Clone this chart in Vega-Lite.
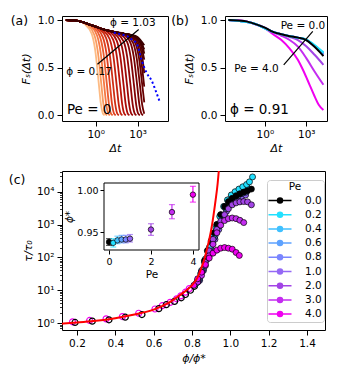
{
"$schema":"https://vega.github.io/schema/vega-lite/v6.json",
"background":"white",
"padding":{"left":8,"top":14,"right":2,"bottom":2},
"config":{
 "font":"DejaVu Sans",
 "view":{"stroke":"black","strokeWidth":1},
 "axis":{"grid":false,"domain":false,"tickColor":"black","tickSize":5,"tickWidth":1,"labelColor":"black","labelFontSize":10.5,"labelPadding":3,"titleColor":"black","titleFontSize":11,"titleFontWeight":"normal","labelFlush":false,"labelOverlap":false},
 "axisY":{"labelOverlap":false},
 "axisLeft":{"labelOverlap":false},
 "text":{"color":"black"},
 "point":{"opacity":1},
 "tick":{"thickness":1.2}
},
"datasets":{
"A":[
{"p":0.17,"t":-2.13,"F":1},{"p":0.17,"t":-1.5,"F":0.995},{"p":0.17,"t":-1,"F":0.98},{"p":0.17,"t":-0.78,"F":0.956},{"p":0.17,"t":-0.28,"F":0.854},{"p":0.17,"t":-0.03,"F":0.68},{"p":0.17,"t":0.22,"F":0.338},{"p":0.17,"t":0.37,"F":0.124},{"p":0.17,"t":0.52,"F":0.018},{"p":0.17,"t":0.64,"F":0},
{"p":0.26,"t":-2.13,"F":1},{"p":0.26,"t":-1.5,"F":0.995},{"p":0.26,"t":-1,"F":0.98},{"p":0.26,"t":-0.6,"F":0.95},{"p":0.26,"t":-0.1,"F":0.846},{"p":0.26,"t":0.15,"F":0.673},{"p":0.26,"t":0.4,"F":0.335},{"p":0.26,"t":0.55,"F":0.123},{"p":0.26,"t":0.7,"F":0.018},{"p":0.26,"t":0.82,"F":0},
{"p":0.35,"t":-2.13,"F":1},{"p":0.35,"t":-1.5,"F":0.995},{"p":0.35,"t":-1,"F":0.98},{"p":0.35,"t":-0.4,"F":0.941},{"p":0.35,"t":0.1,"F":0.837},{"p":0.35,"t":0.35,"F":0.666},{"p":0.35,"t":0.6,"F":0.332},{"p":0.35,"t":0.75,"F":0.122},{"p":0.35,"t":0.9,"F":0.018},{"p":0.35,"t":1.02,"F":0},
{"p":0.44,"t":-2.13,"F":1},{"p":0.44,"t":-1.5,"F":0.995},{"p":0.44,"t":-1,"F":0.98},{"p":0.44,"t":-0.5,"F":0.955},{"p":0.44,"t":-0.2,"F":0.931},{"p":0.44,"t":0.3,"F":0.828},{"p":0.44,"t":0.55,"F":0.659},{"p":0.44,"t":0.8,"F":0.33},{"p":0.44,"t":0.95,"F":0.121},{"p":0.44,"t":1.1,"F":0.018},{"p":0.44,"t":1.22,"F":0},
{"p":0.52,"t":-2.13,"F":1},{"p":0.52,"t":-1.5,"F":0.995},{"p":0.52,"t":-1,"F":0.98},{"p":0.52,"t":-0.5,"F":0.955},{"p":0.52,"t":0.02,"F":0.92},{"p":0.52,"t":0.52,"F":0.818},{"p":0.52,"t":0.77,"F":0.653},{"p":0.52,"t":1.02,"F":0.325},{"p":0.52,"t":1.17,"F":0.12},{"p":0.52,"t":1.32,"F":0.018},{"p":0.52,"t":1.44,"F":0},
{"p":0.59,"t":-2.13,"F":1},{"p":0.59,"t":-1.5,"F":0.995},{"p":0.59,"t":-1,"F":0.98},{"p":0.59,"t":-0.5,"F":0.955},{"p":0.59,"t":0,"F":0.93},{"p":0.59,"t":0.25,"F":0.908},{"p":0.59,"t":0.75,"F":0.81},{"p":0.59,"t":1,"F":0.646},{"p":0.59,"t":1.25,"F":0.323},{"p":0.59,"t":1.4,"F":0.119},{"p":0.59,"t":1.55,"F":0.017},{"p":0.59,"t":1.67,"F":0},
{"p":0.64,"t":-2.13,"F":1},{"p":0.64,"t":-1.5,"F":0.995},{"p":0.64,"t":-1,"F":0.98},{"p":0.64,"t":-0.5,"F":0.955},{"p":0.64,"t":0,"F":0.93},{"p":0.64,"t":0.5,"F":0.896},{"p":0.64,"t":1,"F":0.801},{"p":0.64,"t":1.25,"F":0.641},{"p":0.64,"t":1.5,"F":0.32},{"p":0.64,"t":1.65,"F":0.118},{"p":0.64,"t":1.8,"F":0.017},{"p":0.64,"t":1.92,"F":0},
{"p":0.68,"t":-2.13,"F":1},{"p":0.68,"t":-1.5,"F":0.995},{"p":0.68,"t":-1,"F":0.98},{"p":0.68,"t":-0.5,"F":0.955},{"p":0.68,"t":0,"F":0.93},{"p":0.68,"t":0.5,"F":0.905},{"p":0.68,"t":0.75,"F":0.886},{"p":0.68,"t":1.25,"F":0.794},{"p":0.68,"t":1.5,"F":0.635},{"p":0.68,"t":1.75,"F":0.318},{"p":0.68,"t":1.9,"F":0.117},{"p":0.68,"t":2.05,"F":0.017},{"p":0.68,"t":2.17,"F":0},
{"p":0.72,"t":-2.13,"F":1},{"p":0.72,"t":-1.5,"F":0.995},{"p":0.72,"t":-1,"F":0.98},{"p":0.72,"t":-0.5,"F":0.955},{"p":0.72,"t":0,"F":0.93},{"p":0.72,"t":0.5,"F":0.905},{"p":0.72,"t":1,"F":0.876},{"p":0.72,"t":1.5,"F":0.787},{"p":0.72,"t":1.75,"F":0.631},{"p":0.72,"t":2,"F":0.316},{"p":0.72,"t":2.15,"F":0.116},{"p":0.72,"t":2.3,"F":0.017},{"p":0.72,"t":2.42,"F":0},
{"p":0.75,"t":-2.13,"F":1},{"p":0.75,"t":-1.5,"F":0.995},{"p":0.75,"t":-1,"F":0.98},{"p":0.75,"t":-0.5,"F":0.955},{"p":0.75,"t":0,"F":0.93},{"p":0.75,"t":0.5,"F":0.905},{"p":0.75,"t":1,"F":0.885},{"p":0.75,"t":1.25,"F":0.869},{"p":0.75,"t":1.75,"F":0.782},{"p":0.75,"t":2,"F":0.626},{"p":0.75,"t":2.25,"F":0.313},{"p":0.75,"t":2.4,"F":0.115},{"p":0.75,"t":2.55,"F":0.017},{"p":0.75,"t":2.67,"F":0},
{"p":0.78,"t":-2.13,"F":1},{"p":0.78,"t":-1.5,"F":0.995},{"p":0.78,"t":-1,"F":0.98},{"p":0.78,"t":-0.5,"F":0.955},{"p":0.78,"t":0,"F":0.93},{"p":0.78,"t":0.5,"F":0.905},{"p":0.78,"t":1,"F":0.885},{"p":0.78,"t":1.5,"F":0.861},{"p":0.78,"t":2,"F":0.776},{"p":0.78,"t":2.25,"F":0.622},{"p":0.78,"t":2.5,"F":0.311},{"p":0.78,"t":2.65,"F":0.114},{"p":0.78,"t":2.8,"F":0.017},{"p":0.78,"t":2.92,"F":0},
{"p":0.81,"t":-2.13,"F":1},{"p":0.81,"t":-1.5,"F":0.995},{"p":0.81,"t":-1,"F":0.98},{"p":0.81,"t":-0.5,"F":0.955},{"p":0.81,"t":0,"F":0.93},{"p":0.81,"t":0.5,"F":0.905},{"p":0.81,"t":1,"F":0.885},{"p":0.81,"t":1.5,"F":0.87},{"p":0.81,"t":1.75,"F":0.855},{"p":0.81,"t":2.25,"F":0.771},{"p":0.81,"t":2.5,"F":0.617},{"p":0.81,"t":2.75,"F":0.308},{"p":0.81,"t":2.9,"F":0.113},{"p":0.81,"t":3.05,"F":0.017},{"p":0.81,"t":3.17,"F":0},
{"p":0.84,"t":-2.13,"F":1},{"p":0.84,"t":-1.5,"F":0.995},{"p":0.84,"t":-1,"F":0.98},{"p":0.84,"t":-0.5,"F":0.955},{"p":0.84,"t":0,"F":0.93},{"p":0.84,"t":0.5,"F":0.905},{"p":0.84,"t":1,"F":0.885},{"p":0.84,"t":1.5,"F":0.87},{"p":0.84,"t":1.98,"F":0.85},{"p":0.84,"t":2.48,"F":0.765},{"p":0.84,"t":2.73,"F":0.612},{"p":0.84,"t":2.98,"F":0.306},{"p":0.84,"t":3.13,"F":0.112},{"p":0.84,"t":3.28,"F":0.017},{"p":0.84,"t":3.4,"F":0},
{"p":0.86,"t":-2.13,"F":1},{"p":0.86,"t":-1.5,"F":0.995},{"p":0.86,"t":-1,"F":0.98},{"p":0.86,"t":-0.5,"F":0.955},{"p":0.86,"t":0,"F":0.93},{"p":0.86,"t":0.5,"F":0.905},{"p":0.86,"t":1,"F":0.885},{"p":0.86,"t":1.5,"F":0.87},{"p":0.86,"t":2,"F":0.858},{"p":0.86,"t":2.18,"F":0.845},{"p":0.86,"t":2.68,"F":0.76},{"p":0.86,"t":2.93,"F":0.607},{"p":0.86,"t":3.18,"F":0.304},{"p":0.86,"t":3.33,"F":0.112},{"p":0.86,"t":3.48,"F":0.016},
{"p":0.88,"t":-2.13,"F":1},{"p":0.88,"t":-1.5,"F":0.995},{"p":0.88,"t":-1,"F":0.98},{"p":0.88,"t":-0.5,"F":0.955},{"p":0.88,"t":0,"F":0.93},{"p":0.88,"t":0.5,"F":0.905},{"p":0.88,"t":1,"F":0.885},{"p":0.88,"t":1.5,"F":0.87},{"p":0.88,"t":2,"F":0.858},{"p":0.88,"t":2.35,"F":0.84},{"p":0.88,"t":2.85,"F":0.755},{"p":0.88,"t":3.1,"F":0.604},{"p":0.88,"t":3.35,"F":0.302},{"p":0.88,"t":3.48,"F":0.136},
{"p":0.9,"t":-2.13,"F":1},{"p":0.9,"t":-1.5,"F":0.995},{"p":0.9,"t":-1,"F":0.98},{"p":0.9,"t":-0.5,"F":0.955},{"p":0.9,"t":0,"F":0.93},{"p":0.9,"t":0.5,"F":0.905},{"p":0.9,"t":1,"F":0.885},{"p":0.9,"t":1.5,"F":0.87},{"p":0.9,"t":2,"F":0.858},{"p":0.9,"t":2.48,"F":0.837},{"p":0.9,"t":2.98,"F":0.752},{"p":0.9,"t":3.23,"F":0.601},{"p":0.9,"t":3.48,"F":0.3},
{"p":0.92,"t":-2.13,"F":1},{"p":0.92,"t":-1.5,"F":0.995},{"p":0.92,"t":-1,"F":0.98},{"p":0.92,"t":-0.5,"F":0.955},{"p":0.92,"t":0,"F":0.93},{"p":0.92,"t":0.5,"F":0.905},{"p":0.92,"t":1,"F":0.885},{"p":0.92,"t":1.5,"F":0.87},{"p":0.92,"t":2,"F":0.858},{"p":0.92,"t":2.6,"F":0.834},{"p":0.92,"t":3.1,"F":0.748},{"p":0.92,"t":3.35,"F":0.599},{"p":0.92,"t":3.48,"F":0.442},
{"p":0.95,"t":-2.13,"F":1},{"p":0.95,"t":-1.5,"F":0.995},{"p":0.95,"t":-1,"F":0.98},{"p":0.95,"t":-0.5,"F":0.955},{"p":0.95,"t":0,"F":0.93},{"p":0.95,"t":0.5,"F":0.905},{"p":0.95,"t":1,"F":0.885},{"p":0.95,"t":1.5,"F":0.87},{"p":0.95,"t":2,"F":0.858},{"p":0.95,"t":2.72,"F":0.83},{"p":0.95,"t":3.22,"F":0.745},{"p":0.95,"t":3.48,"F":0.584},
{"p":0.98,"t":-2.13,"F":1},{"p":0.98,"t":-1.5,"F":0.995},{"p":0.98,"t":-1,"F":0.98},{"p":0.98,"t":-0.5,"F":0.955},{"p":0.98,"t":0,"F":0.93},{"p":0.98,"t":0.5,"F":0.905},{"p":0.98,"t":1,"F":0.885},{"p":0.98,"t":1.5,"F":0.87},{"p":0.98,"t":2,"F":0.858},{"p":0.98,"t":2.5,"F":0.845},{"p":0.98,"t":2.82,"F":0.827},{"p":0.98,"t":3.32,"F":0.743},{"p":0.98,"t":3.48,"F":0.647},
{"p":1.0,"t":-2.13,"F":1},{"p":1.0,"t":-1.5,"F":0.995},{"p":1.0,"t":-1,"F":0.98},{"p":1.0,"t":-0.5,"F":0.955},{"p":1.0,"t":0,"F":0.93},{"p":1.0,"t":0.5,"F":0.905},{"p":1.0,"t":1,"F":0.885},{"p":1.0,"t":1.5,"F":0.87},{"p":1.0,"t":2,"F":0.858},{"p":1.0,"t":2.5,"F":0.845},{"p":1.0,"t":2.9,"F":0.825},{"p":1.0,"t":3.2,"F":0.774},{"p":1.0,"t":3.48,"F":0.693},
{"p":1.03,"t":-2.13,"F":1},{"p":1.03,"t":-1.5,"F":0.995},{"p":1.03,"t":-1,"F":0.98},{"p":1.03,"t":-0.5,"F":0.955},{"p":1.03,"t":0,"F":0.93},{"p":1.03,"t":0.5,"F":0.905},{"p":1.03,"t":1,"F":0.885},{"p":1.03,"t":1.5,"F":0.87},{"p":1.03,"t":2,"F":0.858},{"p":1.03,"t":2.5,"F":0.845},{"p":1.03,"t":3,"F":0.822},{"p":1.03,"t":3.25,"F":0.782},{"p":1.03,"t":3.48,"F":0.735}
],
"Ablue":[{"t":1.3,"F":0.867},{"t":1.8,"F":0.85},{"t":2.25,"F":0.83},{"t":2.6,"F":0.795},{"t":2.96,"F":0.745},{"t":3.3,"F":0.575},{"t":3.67,"F":0.44},{"t":4.0,"F":0.367},{"t":4.38,"F":0.225},{"t":4.61,"F":0.133}],
"B":[
{"Pe":"4.0","t":-2.64,"F":1},{"Pe":"4.0","t":-1.5,"F":0.99},{"Pe":"4.0","t":-0.84,"F":0.963},{"Pe":"4.0","t":0,"F":0.915},{"Pe":"4.0","t":0.6,"F":0.85},{"Pe":"4.0","t":1.2,"F":0.79},{"Pe":"4.0","t":1.8,"F":0.7},{"Pe":"4.0","t":2.4,"F":0.58},{"Pe":"4.0","t":2.75,"F":0.48},{"Pe":"4.0","t":3,"F":0.4},{"Pe":"4.0","t":3.24,"F":0.32},{"Pe":"4.0","t":3.6,"F":0.2},{"Pe":"4.0","t":3.9,"F":0.11},{"Pe":"4.0","t":4.24,"F":0.055},
{"Pe":"3.0","t":-2.64,"F":1},{"Pe":"3.0","t":-1.5,"F":0.99},{"Pe":"3.0","t":-0.84,"F":0.964},{"Pe":"3.0","t":0,"F":0.918},{"Pe":"3.0","t":0.6,"F":0.87},{"Pe":"3.0","t":1.2,"F":0.835},{"Pe":"3.0","t":1.8,"F":0.79},{"Pe":"3.0","t":2.4,"F":0.72},{"Pe":"3.0","t":3,"F":0.6},{"Pe":"3.0","t":3.6,"F":0.46},{"Pe":"3.0","t":4.24,"F":0.32},
{"Pe":"2.0","t":-2.64,"F":1},{"Pe":"2.0","t":-1.5,"F":0.99},{"Pe":"2.0","t":-0.84,"F":0.965},{"Pe":"2.0","t":0,"F":0.92},{"Pe":"2.0","t":0.6,"F":0.873},{"Pe":"2.0","t":1.2,"F":0.848},{"Pe":"2.0","t":1.8,"F":0.822},{"Pe":"2.0","t":2.4,"F":0.79},{"Pe":"2.0","t":3,"F":0.725},{"Pe":"2.0","t":3.6,"F":0.635},{"Pe":"2.0","t":4.24,"F":0.53},
{"Pe":"1.0","t":-2.64,"F":1},{"Pe":"1.0","t":-0.84,"F":0.965},{"Pe":"1.0","t":0.6,"F":0.875},{"Pe":"1.0","t":1.8,"F":0.83},{"Pe":"1.0","t":2.4,"F":0.815},{"Pe":"1.0","t":3,"F":0.788},{"Pe":"1.0","t":3.6,"F":0.722},{"Pe":"1.0","t":4.24,"F":0.635},
{"Pe":"0.8","t":-2.64,"F":1},{"Pe":"0.8","t":-0.84,"F":0.965},{"Pe":"0.8","t":0.6,"F":0.875},{"Pe":"0.8","t":1.8,"F":0.83},{"Pe":"0.8","t":2.4,"F":0.815},{"Pe":"0.8","t":3,"F":0.79},{"Pe":"0.8","t":3.6,"F":0.726},{"Pe":"0.8","t":4.24,"F":0.642},
{"Pe":"0.6","t":-2.64,"F":1},{"Pe":"0.6","t":-0.84,"F":0.965},{"Pe":"0.6","t":0.6,"F":0.875},{"Pe":"0.6","t":1.8,"F":0.83},{"Pe":"0.6","t":2.4,"F":0.815},{"Pe":"0.6","t":3,"F":0.792},{"Pe":"0.6","t":3.6,"F":0.73},{"Pe":"0.6","t":4.24,"F":0.648},
{"Pe":"0.4","t":-2.64,"F":1},{"Pe":"0.4","t":-0.84,"F":0.965},{"Pe":"0.4","t":0.6,"F":0.875},{"Pe":"0.4","t":1.8,"F":0.83},{"Pe":"0.4","t":2.4,"F":0.815},{"Pe":"0.4","t":3,"F":0.794},{"Pe":"0.4","t":3.6,"F":0.733},{"Pe":"0.4","t":4.24,"F":0.654},
{"Pe":"0.2","t":-2.64,"F":1},{"Pe":"0.2","t":-0.84,"F":0.965},{"Pe":"0.2","t":0.6,"F":0.875},{"Pe":"0.2","t":1.8,"F":0.83},{"Pe":"0.2","t":2.4,"F":0.815},{"Pe":"0.2","t":3,"F":0.796},{"Pe":"0.2","t":3.6,"F":0.737},{"Pe":"0.2","t":4.24,"F":0.66},
{"Pe":"0.0","t":-2.64,"F":1},{"Pe":"0.0","t":-1.5,"F":0.99},{"Pe":"0.0","t":-0.84,"F":0.965},{"Pe":"0.0","t":0,"F":0.92},{"Pe":"0.0","t":0.6,"F":0.875},{"Pe":"0.0","t":1.2,"F":0.85},{"Pe":"0.0","t":1.8,"F":0.83},{"Pe":"0.0","t":2.4,"F":0.815},{"Pe":"0.0","t":3,"F":0.79},{"Pe":"0.0","t":3.6,"F":0.72},{"Pe":"0.0","t":4,"F":0.66},{"Pe":"0.0","t":4.24,"F":0.62}
],
"Chollow":[
{"Pe":"4.0","x":0.177,"y":0.04},{"Pe":"4.0","x":0.266,"y":0.08},{"Pe":"4.0","x":0.352,"y":0.13},{"Pe":"4.0","x":0.437,"y":0.2},{"Pe":"4.0","x":0.522,"y":0.3},{"Pe":"4.0","x":0.607,"y":0.43},{"Pe":"4.0","x":0.645,"y":0.53},{"Pe":"4.0","x":0.686,"y":0.63},{"Pe":"4.0","x":0.72,"y":0.74},{"Pe":"4.0","x":0.742,"y":0.83},{"Pe":"4.0","x":0.766,"y":0.94},{"Pe":"4.0","x":0.786,"y":1.05},
{"Pe":"0.0","x":0.19,"y":0.02},{"Pe":"0.0","x":0.28,"y":0.06},{"Pe":"0.0","x":0.367,"y":0.1},{"Pe":"0.0","x":0.452,"y":0.18},{"Pe":"0.0","x":0.539,"y":0.26},{"Pe":"0.0","x":0.627,"y":0.44},{"Pe":"0.0","x":0.666,"y":0.56},{"Pe":"0.0","x":0.709,"y":0.66},{"Pe":"0.0","x":0.744,"y":0.77},{"Pe":"0.0","x":0.766,"y":0.87},{"Pe":"0.0","x":0.792,"y":1.0},{"Pe":"0.0","x":0.813,"y":1.12}
],
"Cfill":[
{"Pe":"1.0","x":0.84,"y":1.3},{"Pe":"1.0","x":0.86,"y":1.6},{"Pe":"1.0","x":0.88,"y":1.95},{"Pe":"1.0","x":0.9,"y":2.25},{"Pe":"1.0","x":0.92,"y":2.55},{"Pe":"1.0","x":0.94,"y":2.85},{"Pe":"1.0","x":0.96,"y":3.15},{"Pe":"1.0","x":0.98,"y":3.4},{"Pe":"1.0","x":1.0,"y":3.6},{"Pe":"1.0","x":1.02,"y":3.72},{"Pe":"1.0","x":1.04,"y":3.8},{"Pe":"1.0","x":1.06,"y":3.86},{"Pe":"1.0","x":1.08,"y":3.9},
{"Pe":"0.8","x":0.84,"y":1.35},{"Pe":"0.8","x":0.86,"y":1.65},{"Pe":"0.8","x":0.88,"y":2.0},{"Pe":"0.8","x":0.9,"y":2.35},{"Pe":"0.8","x":0.92,"y":2.65},{"Pe":"0.8","x":0.94,"y":2.95},{"Pe":"0.8","x":0.96,"y":3.25},{"Pe":"0.8","x":0.98,"y":3.5},{"Pe":"0.8","x":1.0,"y":3.68},{"Pe":"0.8","x":1.02,"y":3.8},{"Pe":"0.8","x":1.04,"y":3.88},{"Pe":"0.8","x":1.06,"y":3.94},{"Pe":"0.8","x":1.08,"y":3.98},
{"Pe":"0.6","x":0.835,"y":1.3},{"Pe":"0.6","x":0.855,"y":1.6},{"Pe":"0.6","x":0.875,"y":1.95},{"Pe":"0.6","x":0.895,"y":2.3},{"Pe":"0.6","x":0.915,"y":2.6},{"Pe":"0.6","x":0.935,"y":2.95},{"Pe":"0.6","x":0.955,"y":3.25},{"Pe":"0.6","x":0.975,"y":3.5},{"Pe":"0.6","x":0.995,"y":3.7},{"Pe":"0.6","x":1.015,"y":3.82},{"Pe":"0.6","x":1.035,"y":3.9},{"Pe":"0.6","x":1.055,"y":3.96},{"Pe":"0.6","x":1.075,"y":4.0},
{"Pe":"0.4","x":0.83,"y":1.3},{"Pe":"0.4","x":0.85,"y":1.6},{"Pe":"0.4","x":0.87,"y":1.95},{"Pe":"0.4","x":0.89,"y":2.3},{"Pe":"0.4","x":0.91,"y":2.65},{"Pe":"0.4","x":0.93,"y":3.0},{"Pe":"0.4","x":0.95,"y":3.3},{"Pe":"0.4","x":0.97,"y":3.55},{"Pe":"0.4","x":0.99,"y":3.75},{"Pe":"0.4","x":1.01,"y":3.88},{"Pe":"0.4","x":1.03,"y":3.96},{"Pe":"0.4","x":1.05,"y":4.02},{"Pe":"0.4","x":1.07,"y":4.07},{"Pe":"0.4","x":1.09,"y":4.12},
{"Pe":"0.2","x":0.82,"y":1.2},{"Pe":"0.2","x":0.845,"y":1.5},{"Pe":"0.2","x":0.865,"y":1.85},{"Pe":"0.2","x":0.885,"y":2.2},{"Pe":"0.2","x":0.905,"y":2.55},{"Pe":"0.2","x":0.925,"y":2.9},{"Pe":"0.2","x":0.945,"y":3.25},{"Pe":"0.2","x":0.965,"y":3.55},{"Pe":"0.2","x":0.985,"y":3.75},{"Pe":"0.2","x":1.005,"y":3.9},{"Pe":"0.2","x":1.025,"y":4.0},{"Pe":"0.2","x":1.045,"y":4.08},{"Pe":"0.2","x":1.065,"y":4.15},{"Pe":"0.2","x":1.085,"y":4.22},{"Pe":"0.2","x":1.1,"y":4.3},{"Pe":"0.2","x":1.116,"y":4.45},
{"Pe":"0.0","x":0.83,"y":1.25},{"Pe":"0.0","x":0.85,"y":1.55},{"Pe":"0.0","x":0.865,"y":1.9},{"Pe":"0.0","x":0.88,"y":2.2},{"Pe":"0.0","x":0.9,"y":2.5},{"Pe":"0.0","x":0.915,"y":2.75},{"Pe":"0.0","x":0.93,"y":3.0},{"Pe":"0.0","x":0.95,"y":3.3},{"Pe":"0.0","x":0.97,"y":3.55},{"Pe":"0.0","x":0.99,"y":3.7},{"Pe":"0.0","x":1.01,"y":3.8},{"Pe":"0.0","x":1.03,"y":3.88},{"Pe":"0.0","x":1.05,"y":3.94},{"Pe":"0.0","x":1.07,"y":3.99},{"Pe":"0.0","x":1.09,"y":4.03},{"Pe":"0.0","x":1.11,"y":4.08},
{"Pe":"2.0","x":0.83,"y":1.3},{"Pe":"2.0","x":0.85,"y":1.55},{"Pe":"2.0","x":0.87,"y":1.85},{"Pe":"2.0","x":0.89,"y":2.2},{"Pe":"2.0","x":0.91,"y":2.55},{"Pe":"2.0","x":0.93,"y":2.85},{"Pe":"2.0","x":0.95,"y":3.1},{"Pe":"2.0","x":0.97,"y":3.3},{"Pe":"2.0","x":0.99,"y":3.48},{"Pe":"2.0","x":1.01,"y":3.6},{"Pe":"2.0","x":1.03,"y":3.66},{"Pe":"2.0","x":1.05,"y":3.69},{"Pe":"2.0","x":1.07,"y":3.7},{"Pe":"2.0","x":1.09,"y":3.69},{"Pe":"2.0","x":1.11,"y":3.6},
{"Pe":"3.0","x":0.83,"y":1.25},{"Pe":"3.0","x":0.85,"y":1.45},{"Pe":"3.0","x":0.87,"y":1.75},{"Pe":"3.0","x":0.89,"y":2.05},{"Pe":"3.0","x":0.91,"y":2.4},{"Pe":"3.0","x":0.93,"y":2.75},{"Pe":"3.0","x":0.95,"y":2.98},{"Pe":"3.0","x":0.97,"y":3.12},{"Pe":"3.0","x":0.99,"y":3.18},{"Pe":"3.0","x":1.01,"y":3.2},{"Pe":"3.0","x":1.03,"y":3.18},{"Pe":"3.0","x":1.05,"y":3.13},{"Pe":"3.0","x":1.07,"y":3.06},
{"Pe":"4.0","x":0.81,"y":1.15},{"Pe":"4.0","x":0.83,"y":1.35},{"Pe":"4.0","x":0.85,"y":1.55},{"Pe":"4.0","x":0.87,"y":1.78},{"Pe":"4.0","x":0.89,"y":1.98},{"Pe":"4.0","x":0.91,"y":2.13},{"Pe":"4.0","x":0.93,"y":2.22},{"Pe":"4.0","x":0.95,"y":2.28},{"Pe":"4.0","x":0.97,"y":2.3},{"Pe":"4.0","x":0.99,"y":2.28},{"Pe":"4.0","x":1.01,"y":2.25},{"Pe":"4.0","x":1.03,"y":2.15},{"Pe":"4.0","x":1.047,"y":2.06}
],
"Cred":[{"x":0.122,"y":-0.02},{"x":0.2,"y":0.02},{"x":0.3,"y":0.07},{"x":0.4,"y":0.15},{"x":0.5,"y":0.26},{"x":0.6,"y":0.41},{"x":0.67,"y":0.59},{"x":0.72,"y":0.78},{"x":0.76,"y":0.95},{"x":0.8,"y":1.15},{"x":0.83,"y":1.4},{"x":0.848,"y":1.66},{"x":0.865,"y":1.95},{"x":0.88,"y":2.3},{"x":0.891,"y":2.57},{"x":0.905,"y":3.0},{"x":0.92,"y":3.6},{"x":0.934,"y":4.25},{"x":0.94,"y":4.63}],
"Inset":[
{"Pe":"0.0","pe":0,"s":0.938,"lo":0.934,"hi":0.942},
{"Pe":"0.2","pe":0.2,"s":0.937,"lo":0.932,"hi":0.942},
{"Pe":"0.4","pe":0.4,"s":0.94,"lo":0.936,"hi":0.945},
{"Pe":"0.6","pe":0.6,"s":0.941,"lo":0.937,"hi":0.946},
{"Pe":"0.8","pe":0.8,"s":0.941,"lo":0.937,"hi":0.946},
{"Pe":"1.0","pe":1.0,"s":0.942,"lo":0.938,"hi":0.947},
{"Pe":"2.0","pe":2.0,"s":0.953,"lo":0.946,"hi":0.96},
{"Pe":"3.0","pe":3.0,"s":0.974,"lo":0.966,"hi":0.983},
{"Pe":"4.0","pe":4.0,"s":0.995,"lo":0.986,"hi":1.005}
],
"InsetFrame":[{"x1":-0.24,"x2":4.29,"y1":0.9284,"y2":1.009}]
},
"spacing":16,
"resolve":{"scale":{"color":"independent"}},
"vconcat":[
{"hconcat":[
 {"width":106,"height":105,
  "layer":[
   {"data":{"name":"A"},"mark":{"type":"line","interpolate":"monotone","strokeWidth":1.8},
    "encoding":{
     "x":{"field":"t","type":"quantitative","scale":{"domain":[-2.41,5.18],"nice":false,"zero":false},"axis":{"values":[0,3],"labelExpr":"datum.value == 0 ? '10⁰' : '10³'","title":"Δt","titleFontStyle":"italic","titlePadding":3}},
     "y":{"field":"F","type":"quantitative","scale":{"domain":[-0.06,1.042],"nice":false,"zero":false},"axis":{"values":[0,0.5,1],"format":".1f","title":"Fₛ(Δt)","titleFontStyle":"italic","titlePadding":6}},
     "color":{"field":"p","type":"quantitative","scale":{"domain":[0.17,1.03],"range":["#fdbb84","#f67a45","#e0401f","#b81008","#6e0000","#000000"]},"legend":null},
     "detail":{"field":"p"}}},
   {"mark":{"type":"rule","color":"#808080","strokeDash":[5,3],"strokeWidth":1.3},"encoding":{"y":{"datum":0.368,"type":"quantitative"}}},
   {"data":{"name":"Ablue"},"mark":{"type":"line","color":"#0000ff","strokeDash":[2,2.5],"strokeWidth":2,"interpolate":"monotone"},
    "encoding":{"x":{"field":"t","type":"quantitative"},"y":{"field":"F","type":"quantitative"}}},
   {"mark":{"type":"point","shape":"M-1,0H1M0,-1V1","size":90,"stroke":"#ff0000","strokeWidth":1.5,"filled":false},
    "encoding":{"x":{"datum":4.0,"type":"quantitative"},"y":{"datum":0.367,"type":"quantitative"}}},
   {"data":{"values":[{"t":0.13,"F":0.535,"t2":3.08,"F2":0.9}]},"mark":{"type":"rule","color":"black","strokeWidth":1.2},
    "encoding":{"x":{"field":"t","type":"quantitative"},"y":{"field":"F","type":"quantitative"},"x2":{"field":"t2"},"y2":{"field":"F2"}}},
   {"mark":{"type":"point","shape":"triangle-up","angle":50,"filled":true,"color":"black","size":28},
    "encoding":{"x":{"datum":3.08,"type":"quantitative"},"y":{"datum":0.9,"type":"quantitative"}}},
   {"data":{"values":[{"t":2.66,"F":0.972,"s":"ϕ = 1.03"},{"t":-0.47,"F":0.455,"s":"ϕ = 0.17"}]},
    "mark":{"type":"text","fontSize":10.5,"align":"center","baseline":"middle"},
    "encoding":{"x":{"field":"t","type":"quantitative"},"y":{"field":"F","type":"quantitative"},"text":{"field":"s"}}},
   {"data":{"values":[{"t":-2.06,"F":0.055,"s":"Pe = 0"}]},
    "mark":{"type":"text","fontSize":13.5,"align":"left","baseline":"middle"},
    "encoding":{"x":{"field":"t","type":"quantitative"},"y":{"field":"F","type":"quantitative"},"text":{"field":"s"}}},
   {"data":{"values":[{"t":-5.46,"F":0.99,"s":"(a)"}]},
    "mark":{"type":"text","fontSize":12.5,"align":"center","baseline":"middle"},
    "encoding":{"x":{"field":"t","type":"quantitative"},"y":{"field":"F","type":"quantitative"},"text":{"field":"s"}}}
  ]},
 {"width":102,"height":105,
  "layer":[
   {"data":{"name":"B"},"mark":{"type":"line","interpolate":"monotone","strokeWidth":2},
    "encoding":{
     "x":{"field":"t","type":"quantitative","scale":{"domain":[-2.88,4.5],"nice":false,"zero":false},"axis":{"values":[0,3],"labelExpr":"datum.value == 0 ? '10⁰' : '10³'","title":"Δt","titleFontStyle":"italic","titlePadding":3}},
     "y":{"field":"F","type":"quantitative","scale":{"domain":[-0.06,1.042],"nice":false,"zero":false},"axis":{"values":[0,0.5,1],"format":".1f","title":"Fₛ(Δt)","titleFontStyle":"italic","titlePadding":6}},
     "color":{"field":"Pe","type":"nominal","scale":{"domain":["0.0","0.2","0.4","0.6","0.8","1.0","2.0","3.0","4.0"],"range":["#000000","#22e0ff","#40c0ff","#5ea2ff","#7a86ff","#9468f5","#a244e6","#c42cf0","#f000f0"]},"legend":null}}},
   {"mark":{"type":"rule","color":"#808080","strokeDash":[5,3],"strokeWidth":1.3},"encoding":{"y":{"datum":0.368,"type":"quantitative"}}},
   {"data":{"values":[{"t":3.47,"F":0.88,"t2":1.37,"F2":0.53}]},"mark":{"type":"rule","color":"black","strokeWidth":1.2},
    "encoding":{"x":{"field":"t","type":"quantitative"},"y":{"field":"F","type":"quantitative"},"x2":{"field":"t2"},"y2":{"field":"F2"}}},
   {"mark":{"type":"point","shape":"triangle-up","angle":221,"filled":true,"color":"black","size":28},
    "encoding":{"x":{"datum":1.37,"type":"quantitative"},"y":{"datum":0.53,"type":"quantitative"}}},
   {"data":{"values":[{"t":2.76,"F":0.94,"s":"Pe = 0.0"},{"t":-0.6,"F":0.49,"s":"Pe = 4.0"}]},
    "mark":{"type":"text","fontSize":10.5,"align":"center","baseline":"middle"},
    "encoding":{"x":{"field":"t","type":"quantitative"},"y":{"field":"F","type":"quantitative"},"text":{"field":"s"}}},
   {"data":{"values":[{"t":-2.52,"F":0.055,"s":"ϕ = 0.91"}]},
    "mark":{"type":"text","fontSize":13.5,"align":"left","baseline":"middle"},
    "encoding":{"x":{"field":"t","type":"quantitative"},"y":{"field":"F","type":"quantitative"},"text":{"field":"s"}}},
   {"data":{"values":[{"t":-6.13,"F":0.99,"s":"(b)"}]},
    "mark":{"type":"text","fontSize":12.5,"align":"center","baseline":"middle"},
    "encoding":{"x":{"field":"t","type":"quantitative"},"y":{"field":"F","type":"quantitative"},"text":{"field":"s"}}}
  ]}
 ],
 "spacing":1,
 "resolve":{"scale":{"color":"independent"}}
},
{"width":263,"height":159,
 "resolve":{"scale":{"x":"independent","y":"independent"}},
 "layer":[
  {"resolve":{"axis":{"y":"independent"}},
   "layer":[
   {"data":{"name":"Chollow"},"mark":{"type":"point","filled":false,"size":36,"strokeWidth":1.2,"opacity":1},
    "encoding":{
     "x":{"field":"x","type":"quantitative","scale":{"domain":[0.122,1.494],"nice":false,"zero":false},"axis":{"values":[0.2,0.4,0.6,0.8,1.0,1.2,1.4],"format":".1f","title":"ϕ/ϕ*","titleFontStyle":"italic","titlePadding":4}},
     "y":{"field":"y","type":"quantitative","scale":{"domain":[-0.21,4.63],"nice":false,"zero":false},"axis":{"orient":"left","values":[0,1,2,3,4],"tickCount":5,"labelExpr":"datum.value < 0.5 ? '10⁰' : datum.value < 1.5 ? '10¹' : datum.value < 2.5 ? '10²' : datum.value < 3.5 ? '10³' : '10⁴'","labelOverlap":false,"labelBound":false,"labelSeparation":0,"title":"τ/τ₀","titleFontStyle":"italic","titlePadding":3}},
     "color":{"field":"Pe","type":"nominal","scale":{"domain":["0.0","0.2","0.4","0.6","0.8","1.0","2.0","3.0","4.0"],"range":["#000000","#22e0ff","#40c0ff","#5ea2ff","#7a86ff","#9468f5","#a244e6","#c42cf0","#f000f0"]}}}},
   {"data":{"name":"Cfill"},"mark":{"type":"point","filled":true,"size":36,"stroke":"black","strokeWidth":0.7,"opacity":1},
    "encoding":{
     "x":{"field":"x","type":"quantitative"},
     "y":{"field":"y","type":"quantitative","axis":null},
     "color":{"field":"Pe","type":"nominal","legend":{"title":"Pe","orient":"none","legendX":205,"legendY":9,"symbolType":"M-2.3,0H2.3M-0.5,0A0.5,0.5,0,1,1,0.5,0A0.5,0.5,0,1,1,-0.5,0Z","symbolSize":100,"symbolStrokeWidth":1.5,"symbolOffset":5,"labelOffset":19,"rowPadding":2.2,"padding":2,"titlePadding":2,"titleFontSize":10.5,"labelFontSize":10.5,"titleFontWeight":"normal","titleAnchor":"middle","fillColor":"white","strokeColor":"#cccccc","cornerRadius":3,"labelColor":"black","titleColor":"black",
       "encode":{"symbols":{"update":{"stroke":{"signal":"datum.value === '0.0' ? '#000000' : datum.value === '0.2' ? '#22e0ff' : datum.value === '0.4' ? '#40c0ff' : datum.value === '0.6' ? '#5ea2ff' : datum.value === '0.8' ? '#7a86ff' : datum.value === '1.0' ? '#9468f5' : datum.value === '2.0' ? '#a244e6' : datum.value === '3.0' ? '#c42cf0' : '#f000f0'"},"strokeOpacity":{"value":0.6}}}}}}}},
   {"data":{"name":"Cred"},"mark":{"type":"line","color":"#ff0000","strokeWidth":2,"interpolate":"monotone","clip":true},
    "encoding":{"x":{"field":"x","type":"quantitative"},"y":{"field":"y","type":"quantitative","axis":{"orient":"left","values":[-0.155,-0.097,-0.046,0.301,0.477,0.602,0.699,0.778,0.845,0.903,0.954,1.301,1.477,1.602,1.699,1.778,1.845,1.903,1.954,2.301,2.477,2.602,2.699,2.778,2.845,2.903,2.954,3.301,3.477,3.602,3.699,3.778,3.845,3.903,3.954,4.301,4.477,4.602],"labels":false,"tickSize":2.5,"tickWidth":0.8,"title":null,"domain":false}}}},
   {"data":{"values":[{"x":-0.112,"y":4.36,"s":"(c)"}]},
    "mark":{"type":"text","fontSize":12.5,"align":"center","baseline":"middle"},
    "encoding":{"x":{"field":"x","type":"quantitative"},"y":{"field":"y","type":"quantitative","axis":null},"text":{"field":"s"}}}
  ]},
  {"layer":[
   {"data":{"name":"InsetFrame"},"mark":{"type":"rect","fill":"white","stroke":"black","strokeWidth":1},
    "encoding":{
     "x":{"field":"x1","type":"quantitative","scale":{"domain":[-0.24,4.29],"range":[42,137],"nice":false,"zero":false},"axis":{"orient":"bottom","offset":-80,"values":[0,2,4],"format":"d","title":"Pe","labelFontSize":9.5,"titleFontSize":10.5,"titlePadding":4,"tickSize":4,"labelPadding":2}},
     "x2":{"field":"x2"},
     "y":{"field":"y1","type":"quantitative","scale":{"domain":[0.9284,1.009],"range":[79,12],"nice":false,"zero":false},"axis":{"orient":"left","offset":-42,"values":[0.95,1.0],"format":".2f","title":"ϕ*","titleFontStyle":"italic","labelFontSize":9.5,"titleFontSize":10.5,"titlePadding":2,"tickSize":4,"labelPadding":2}},
     "y2":{"field":"y2"}}},
   {"data":{"name":"Inset"},"mark":{"type":"rule","strokeWidth":1.2},
    "encoding":{"x":{"field":"pe","type":"quantitative"},"y":{"field":"lo","type":"quantitative"},"y2":{"field":"hi"},"color":{"field":"Pe","type":"nominal"}}},
   {"data":{"name":"Inset"},"mark":{"type":"tick","orient":"horizontal","size":6,"thickness":1.2},
    "encoding":{"x":{"field":"pe","type":"quantitative"},"y":{"field":"lo","type":"quantitative"},"color":{"field":"Pe","type":"nominal"}}},
   {"data":{"name":"Inset"},"mark":{"type":"tick","orient":"horizontal","size":6,"thickness":1.2},
    "encoding":{"x":{"field":"pe","type":"quantitative"},"y":{"field":"hi","type":"quantitative"},"color":{"field":"Pe","type":"nominal"}}},
   {"data":{"name":"Inset"},"mark":{"type":"point","filled":true,"size":30,"stroke":"black","strokeWidth":0.7,"opacity":1},
    "encoding":{"x":{"field":"pe","type":"quantitative"},"y":{"field":"s","type":"quantitative"},"color":{"field":"Pe","type":"nominal"}}}
  ]}
 ]}
]
}
